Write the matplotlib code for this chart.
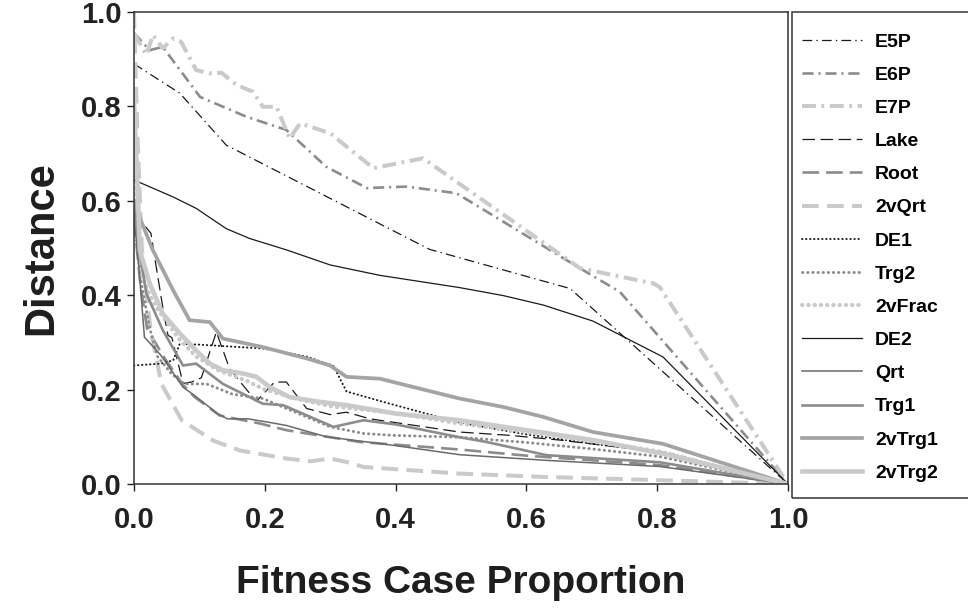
import matplotlib
matplotlib.use('Agg')
import matplotlib.pyplot as plt
from matplotlib.patches import Rectangle

plt.rcParams['font.family'] = ['Liberation Sans', 'DejaVu Sans']
plt.rcParams['font.weight'] = 'bold'
plt.rcParams['lines.scale_dashes'] = False

# ---- data ----
e5p_x = [0, 0.07, 0.141, 0.452, 0.667, 1.0]
e5p_y = [0.89, 0.828, 0.718, 0.497, 0.414, 0.0]

e6p_x = [0, 0.024, 0.044, 0.101, 0.172, 0.233, 0.294, 0.356, 0.417, 0.493, 0.682, 0.743, 1.0]
e6p_y = [0.955, 0.919, 0.926, 0.82, 0.778, 0.75, 0.672, 0.627, 0.630, 0.616, 0.457, 0.407, 0.0]

e7p_x = [0, 0.019, 0.029, 0.044, 0.060, 0.072, 0.095, 0.116, 0.134, 0.157, 0.182, 0.197,
         0.218, 0.238, 0.254, 0.300, 0.366, 0.442, 0.682, 0.794, 0.804, 1.0]
e7p_y = [0.955, 0.909, 0.951, 0.923, 0.944, 0.937, 0.877, 0.870, 0.871, 0.845, 0.831, 0.799,
         0.799, 0.732, 0.764, 0.743, 0.669, 0.690, 0.457, 0.425, 0.417, 0.0]

lake_x = [0, 0.026, 0.034, 0.044, 0.052, 0.058, 0.075, 0.088, 0.103, 0.126, 0.146, 0.165,
          0.187, 0.215, 0.233, 0.264, 0.30, 0.325, 0.361, 0.498, 0.575, 0.651, 0.804, 1.0]
lake_y = [0.575, 0.531, 0.46, 0.375, 0.315, 0.31, 0.213, 0.216, 0.225, 0.322, 0.245, 0.212,
          0.175, 0.216, 0.216, 0.16, 0.147, 0.152, 0.138, 0.11, 0.103, 0.093, 0.068, 0.0]

root_x = [0, 0.01, 0.02, 0.045, 0.075, 0.092, 0.131, 0.193, 0.233, 0.345, 0.498, 0.6, 0.804, 1.0]
root_y = [0.56, 0.42, 0.33, 0.27, 0.21, 0.185, 0.145, 0.128, 0.114, 0.089, 0.073, 0.06, 0.04, 0.0]

qrt2v_x = [0, 0.005, 0.012, 0.025, 0.042, 0.073, 0.121, 0.162, 0.233, 0.27, 0.30, 0.33,
           0.351, 0.498, 0.626, 0.804, 1.0]
qrt2v_y = [1.0, 0.75, 0.5, 0.33, 0.212, 0.135, 0.092, 0.071, 0.054, 0.048, 0.054, 0.045,
           0.036, 0.022, 0.015, 0.008, 0.0]

de1_x = [0, 0.041, 0.06, 0.07, 0.103, 0.162, 0.197, 0.264, 0.305, 0.325, 0.386, 0.498,
         0.60, 0.702, 0.815, 1.0]
de1_y = [0.251, 0.255, 0.262, 0.297, 0.295, 0.29, 0.287, 0.27, 0.25, 0.196, 0.172, 0.13,
         0.105, 0.085, 0.066, 0.0]

trg2_x = [0, 0.012, 0.024, 0.036, 0.057, 0.077, 0.111, 0.151, 0.197, 0.233, 0.30, 0.351,
          0.396, 0.498, 0.60, 0.702, 0.804, 1.0]
trg2_y = [0.57, 0.42, 0.33, 0.27, 0.234, 0.212, 0.212, 0.19, 0.181, 0.16, 0.121, 0.107,
          0.103, 0.099, 0.088, 0.074, 0.058, 0.0]

frac2v_x = [0, 0.009, 0.024, 0.036, 0.052, 0.067, 0.095, 0.13, 0.17, 0.2, 0.25, 0.3, 0.4,
            0.498, 0.6, 0.7, 0.8, 1.0]
frac2v_y = [0.68, 0.45, 0.40, 0.37, 0.34, 0.31, 0.27, 0.24, 0.22, 0.2, 0.18, 0.165, 0.15,
            0.128, 0.11, 0.09, 0.07, 0.0]

de2_x = [0, 0.06, 0.095, 0.141, 0.177, 0.233, 0.30, 0.376, 0.498, 0.565, 0.626, 0.702, 0.809, 1.0]
de2_y = [0.644, 0.608, 0.584, 0.541, 0.52, 0.496, 0.464, 0.442, 0.416, 0.399, 0.379, 0.345, 0.269, 0.0]

qrt_x = [0, 0.008, 0.016, 0.041, 0.075, 0.092, 0.128, 0.143, 0.174, 0.205, 0.233, 0.294,
         0.396, 0.498, 0.631, 0.804, 1.0]
qrt_y = [0.57, 0.45, 0.311, 0.273, 0.205, 0.188, 0.149, 0.138, 0.138, 0.131, 0.124, 0.1,
         0.082, 0.062, 0.05, 0.037, 0.0]

trg1_x = [0, 0.008, 0.019, 0.044, 0.075, 0.095, 0.136, 0.197, 0.228, 0.305, 0.351, 0.401,
          0.498, 0.539, 0.631, 0.804, 1.0]
trg1_y = [0.59, 0.50, 0.403, 0.326, 0.251, 0.255, 0.212, 0.17, 0.167, 0.121, 0.135, 0.126,
          0.099, 0.089, 0.061, 0.046, 0.0]

trg1v_x = [0, 0.01, 0.029, 0.06, 0.085, 0.116, 0.136, 0.197, 0.264, 0.30, 0.325, 0.376,
           0.498, 0.565, 0.626, 0.702, 0.809, 1.0]
trg1v_y = [0.60, 0.56, 0.495, 0.41, 0.347, 0.343, 0.308, 0.29, 0.266, 0.251, 0.227, 0.223,
           0.181, 0.163, 0.142, 0.11, 0.085, 0.0]

trg2v_x = [0, 0.005, 0.009, 0.024, 0.044, 0.07, 0.095, 0.116, 0.136, 0.167, 0.187, 0.208,
           0.238, 0.284, 0.325, 0.401, 0.498, 0.60, 0.702, 0.809, 1.0]
trg2v_y = [0.81, 0.65, 0.495, 0.425, 0.361, 0.319, 0.283, 0.255, 0.241, 0.234, 0.227, 0.205,
           0.184, 0.174, 0.167, 0.149, 0.135, 0.114, 0.093, 0.064, 0.0]

BLACK = '#1a1a1a'
MID = '#8c8c8c'
LIGHT = '#cacaca'

# label, x, y, color, linewidth, dashes (None = solid), capstyle
series = [
    ('E5P', e5p_x, e5p_y, BLACK, 0.9, (7, 3, 1, 3), 'butt'),
    ('E6P', e6p_x, e6p_y, MID, 1.9, (8, 3.5, 1.5, 3.5), 'butt'),
    ('E7P', e7p_x, e7p_y, LIGHT, 2.9, (10, 4, 2, 4), 'butt'),
    ('Lake', lake_x, lake_y, BLACK, 0.9, (9, 4), 'butt'),
    ('Root', root_x, root_y, MID, 1.9, (12, 5), 'butt'),
    ('2vQrt', qrt2v_x, qrt2v_y, LIGHT, 2.9, (12, 6), 'butt'),
    ('DE1', de1_x, de1_y, BLACK, 1.4, (0.3, 2.6), 'round'),
    ('Trg2', trg2_x, trg2_y, MID, 2.1, (0.3, 3.4), 'round'),
    ('2vFrac', frac2v_x, frac2v_y, LIGHT, 3.0, (0.3, 4.2), 'round'),
    ('DE2', de2_x, de2_y, BLACK, 0.9, None, 'butt'),
    ('Qrt', qrt_x, qrt_y, '#6a6a6a', 1.1, None, 'butt'),
    ('Trg1', trg1_x, trg1_y, MID, 1.9, None, 'butt'),
    ('2vTrg1', trg1v_x, trg1v_y, '#a4a4a4', 2.7, None, 'butt'),
    ('2vTrg2', trg2v_x, trg2v_y, LIGHT, 3.3, None, 'butt'),
]

fig = plt.figure(figsize=(9.68, 6.10), dpi=100)
ax = fig.add_axes([0.1384, 0.2066, 0.6756, 0.7738])

handles = []
for label, xs, ys, col, lw, dash, cap in series:
    ln, = ax.plot(xs, ys, color=col, lw=lw, label=label, solid_joinstyle='miter')
    if dash is not None:
        ln.set_dashes(dash)
        ln.set_dash_capstyle(cap)
    handles.append(ln)

ticks = [0, 0.2, 0.4, 0.6, 0.8, 1.0]
tick_labels = ['0.0', '0.2', '0.4', '0.6', '0.8', '1.0']
ax.set_xlim(0, 1.0)
ax.set_ylim(0, 1.0)
ax.set_xticks(ticks)
ax.set_yticks(ticks)
ax.set_xticklabels(tick_labels)
ax.set_yticklabels(tick_labels)
ax.tick_params(direction='out', length=5, width=1.0, labelsize=21, colors='#222222')
ax.tick_params(axis='x', pad=11)
ax.tick_params(axis='y', pad=4)
for sp in ax.spines.values():
    sp.set_linewidth(1.1)
    sp.set_color('#333333')

ax.set_xlabel('Fitness Case Proportion', fontsize=28, fontweight='bold', labelpad=22, color='#1e1e1e')
ax.set_ylabel('Distance', fontsize=30, fontweight='bold', labelpad=14, color='#1e1e1e')

# legend box
fig.patches.append(Rectangle((792 / 968, 1 - 498 / 610), 190 / 968, 486 / 610,
                             transform=fig.transFigure, fill=False, ec='#333333', lw=1.1))
fig.legend(handles=handles, loc='upper left', bbox_to_anchor=(802 / 968, 1 - 33 / 610),
           frameon=False, borderpad=0, borderaxespad=0, handlelength=3.1, handletextpad=0.65,
           labelspacing=0.80, prop={'family': ['Liberation Sans', 'DejaVu Sans'],
                                   'weight': 'bold', 'size': 14})

fig.savefig('out.png', dpi=100)
